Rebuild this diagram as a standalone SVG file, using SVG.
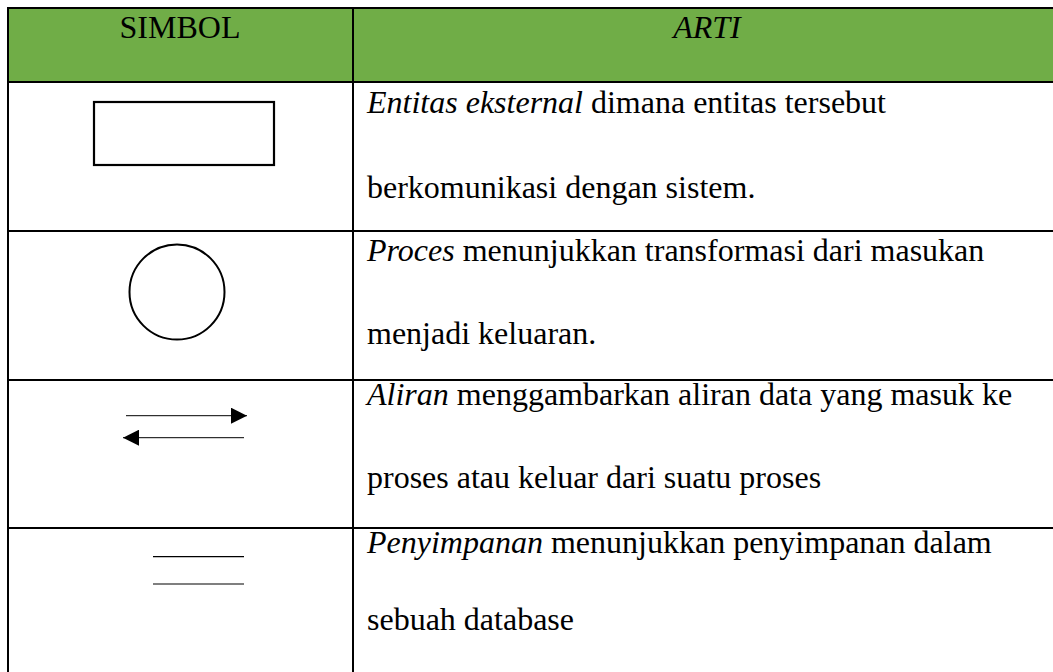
<svg xmlns="http://www.w3.org/2000/svg" width="1053" height="672" viewBox="0 0 1053 672">
<style>
  .t { font-family: "Liberation Serif", "Times New Roman", serif; font-size: 32px; fill: #000; }
  .i { font-style: italic; }
  .grid { stroke: #000; stroke-width: 2; fill: none; }
  .sym { stroke: #000; fill: none; }
</style>
<defs>
  <marker id="ah" markerWidth="16" markerHeight="16" refX="16" refY="8" orient="auto" markerUnits="userSpaceOnUse">
    <path d="M0,0 L16,8 L0,16 Z" fill="#000"/>
  </marker>
</defs>
<rect x="0" y="0" width="1053" height="672" fill="#fff"/>
<g id="table">
  <rect x="8" y="8" width="1060" height="74" fill="#70ad47"/>
  <line class="grid" x1="8" y1="8" x2="1053" y2="8"/>
  <line class="grid" x1="8" y1="7" x2="8" y2="672"/>
  <line class="grid" x1="353" y1="7" x2="353" y2="672"/>
  <line class="grid" x1="7" y1="82" x2="1053" y2="82"/>
  <line class="grid" x1="7" y1="231" x2="1053" y2="231"/>
  <line class="grid" x1="7" y1="380" x2="1053" y2="380"/>
  <line class="grid" x1="7" y1="528" x2="1053" y2="528"/>
  <text class="t" x="180" y="38" text-anchor="middle">SIMBOL</text>
  <text class="t i" x="707" y="38" text-anchor="middle">ARTI</text>
</g>
<g id="entitas">
  <rect class="sym" x="94" y="102" width="180" height="63" stroke-width="2.2"/>
  <text class="t" x="367" y="113"><tspan class="i">Entitas eksternal</tspan> dimana entitas tersebut</text>
  <text class="t" x="367" y="198">berkomunikasi dengan sistem.</text>
</g>
<g id="proses">
  <circle class="sym" cx="177" cy="292" r="47.5" stroke-width="2"/>
  <text class="t" x="367" y="261"><tspan class="i">Proces</tspan> menunjukkan transformasi dari masukan</text>
  <text class="t" x="367" y="344">menjadi keluaran.</text>
</g>
<g id="aliran">
  <text class="t" x="367" y="405"><tspan class="i">Aliran</tspan> menggambarkan aliran data yang masuk ke</text>
  <text class="t" x="367" y="488">proses atau keluar dari suatu proses</text>
</g>
<g id="connectors">
  <line class="sym" x1="126" y1="415.7" x2="247" y2="415.7" stroke-width="1" marker-end="url(#ah)"/>
  <line class="sym" x1="244" y1="437.7" x2="123" y2="437.7" stroke-width="1" marker-end="url(#ah)"/>
</g>
<g id="penyimpanan">
  <line class="sym" x1="153" y1="556.7" x2="244" y2="556.7" stroke-width="1.2"/>
  <line class="sym" x1="153" y1="584" x2="244" y2="584" stroke-width="1.2"/>
  <text class="t" x="367" y="553"><tspan class="i">Penyimpanan</tspan> menunjukkan penyimpanan dalam</text>
  <text class="t" x="367" y="630">sebuah database</text>
</g>
</svg>
